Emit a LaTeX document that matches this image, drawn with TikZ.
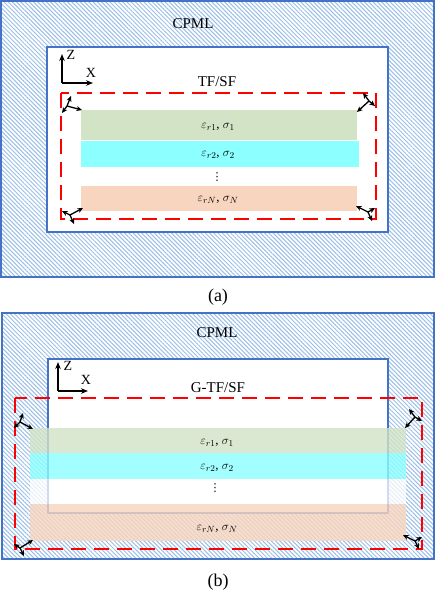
\documentclass[tikz,border=0pt]{standalone}
\usepackage{fontspec}
\setmainfont{Liberation Serif}
\newfontfamily\dejavu{DejaVu Sans}
\usetikzlibrary{patterns.meta,arrows.meta}
\definecolor{hatch}{HTML}{9BBEE6}
\definecolor{bord}{HTML}{4472C4}
\definecolor{lgreen}{HTML}{D3E3C6}
\definecolor{lcyan}{HTML}{8CFFFF}
\definecolor{lpeach}{HTML}{F8D5BE}
\newcommand\wavecluster[5]{%
  \coordinate (#1o) at #2;
  \coordinate (#1k) at #3;
  \coordinate (#1e) at #4;
  \coordinate (#1h) at #5;
  \draw[wave] (#1o) -- (#1k);
  \draw[wave] (#1o) -- (#1e);
  \draw[wave] (#1o) -- (#1h);
}
\begin{document}
\begin{tikzpicture}[x=1pt,y=-1pt,
  cpml/.style={draw=bord,line width=2pt,pattern={Lines[angle=-45,distance=3pt,line width=1pt]},pattern color=hatch},
  simbox/.style={draw=bord,line width=2pt,fill=white},
  tfsf/.style={draw=red,line width=2.2pt,dash pattern=on 15pt off 8pt},
  layer/.style={draw=none,inner sep=0pt,outer sep=0pt},
  wave/.style={-{Stealth[length=5.5pt,width=5pt,inset=1.5pt]},line width=1.3pt},
  axis/.style={-{Stealth[length=7pt,width=5.5pt]},line width=1.4pt},
  lbl/.style={font=\fontsize{15}{17}\selectfont,inner sep=0pt},
  mlbl/.style={font=\fontsize{13}{15}\selectfont,inner sep=0pt},
  dotlbl/.style={font=\dejavu\fontsize{11}{12}\selectfont,inner sep=0pt},
  sublabel/.style={font=\fontsize{18}{20}\selectfont,inner sep=0pt}
]
\useasboundingbox (0,0) rectangle (436,592);
% ---------------- (a) ----------------
\path[cpml] (1,1) rectangle (434,277);
\path[simbox] (47,47) rectangle (388,232);
\node[layer,fill=lgreen,minimum width=276,minimum height=30] (ag) at (219,125) {};
\node[layer,fill=lcyan,minimum width=278,minimum height=26] (ac) at (220,154) {};
\node[layer,fill=lpeach,minimum width=276,minimum height=25] (ap) at (219,198.5) {};
\path[tfsf] (61,93) rectangle (376,219);
\node[lbl] (acpml) at (193,24) {CPML};
\node[lbl] (atfsf) at (217,82) {TF/SF};
\node[mlbl] (agl) at (218,127) {$\varepsilon_{r1}$, $\sigma_1$};
\node[mlbl] (acl) at (218,155) {$\varepsilon_{r2}$, $\sigma_2$};
\node[dotlbl] (adots) at (217,177) {⋮};
\node[mlbl] (apl) at (218,200) {$\varepsilon_{rN}$, $\sigma_N$};
\coordinate (aO) at (62,83);
\coordinate (aZ) at (62,54);
\coordinate (aX) at (93,83);
\draw[axis] (aO) -- (aZ);
\draw[axis] (aO) -- (aX);
\node[lbl,font=\fontsize{14}{16}\selectfont] (aZl) at (71,55) {Z};
\node[lbl,font=\fontsize{14}{16}\selectfont] (aXl) at (91,73) {X};
\wavecluster{atl}{(67,106)}{(82,110)}{(71,96)}{(62,113)}
\wavecluster{atr}{(369,101)}{(357,112)}{(363,93)}{(375,106)}
\wavecluster{abl}{(70,215)}{(83,208)}{(62,211)}{(74,224)}
\wavecluster{abr}{(368,212)}{(356,206)}{(375,208)}{(372,221)}
\node[sublabel] (acap) at (218,297) {(a)};
% ---------------- (b) ----------------
\path[cpml] (2,313) rectangle (434,559);
\path[simbox] (48,359) rectangle (388,513);
\node[layer,fill=lgreen,fill opacity=0.8,minimum width=376,minimum height=25] (bg) at (218,440.5) {};
\node[layer,fill=lcyan,fill opacity=0.8,minimum width=376,minimum height=26] (bc) at (218,466) {};
\node[layer,fill=white,fill opacity=0.75,minimum width=376,minimum height=25] (bw) at (218,491.5) {};
\node[layer,fill=lpeach,fill opacity=0.8,minimum width=376,minimum height=37] (bp) at (218,522.5) {};
\path[tfsf] (15,398) rectangle (422,549);
\node[lbl] (bcpml) at (217,333) {CPML};
\node[lbl] (btfsf) at (218,388) {G-TF/SF};
\node[mlbl] (bgl) at (217,443) {$\varepsilon_{r1}$, $\sigma_1$};
\node[mlbl] (bcl) at (217,468) {$\varepsilon_{r2}$, $\sigma_2$};
\node[dotlbl] (bdots) at (215,488) {⋮};
\node[mlbl] (bpl) at (217,529) {$\varepsilon_{rN}$, $\sigma_N$};
\coordinate (bO) at (58,391);
\coordinate (bZ) at (58,362);
\coordinate (bX) at (88,391);
\draw[axis] (bO) -- (bZ);
\draw[axis] (bO) -- (bX);
\node[lbl,font=\fontsize{14}{16}\selectfont] (bZl) at (68,366) {Z};
\node[lbl,font=\fontsize{14}{16}\selectfont] (bXl) at (86,380) {X};
\wavecluster{btl}{(20,422)}{(33,429)}{(23,413)}{(14,428)}
\wavecluster{btr}{(415,417)}{(405,428)}{(409,409)}{(422,421)}
\wavecluster{bbl}{(20,548)}{(33,540)}{(14,544)}{(24,556)}
\wavecluster{bbr}{(415,541)}{(403,535)}{(422,537)}{(419,549)}
\node[sublabel] (bcap) at (218,582) {(b)};
\end{tikzpicture}
\end{document}
